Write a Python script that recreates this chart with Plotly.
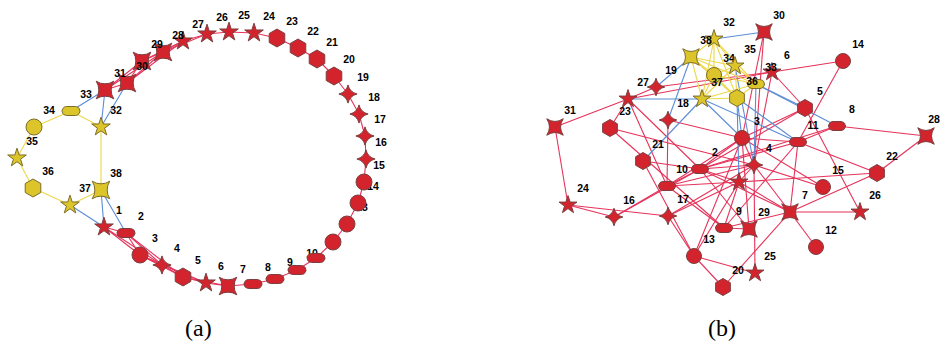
import math
import plotly.graph_objects as go

# ---------------- data ----------------
NODE_ID = list(range(1, 39))
NODE_SHAPE = (["star", "pill", "circle", "star-diamond", "hexagon", "star", "star-square"]
              + ["pill"] * 4 + ["circle"] * 4 + ["star-diamond"] * 4 + ["hexagon"] * 4
              + ["star"] * 4 + ["star-square"] * 4
              + ["star", "pill", "circle", "star", "hexagon", "star", "star-square"])
NODE_GROUP = ["red"] * 31 + ["yellow"] * 7

# panel (a) layout (node positions)
A_X = [104, 126, 140, 162, 183, 206, 228, 253, 275, 297, 316, 333, 347, 358, 364, 366, 365, 359, 348,
       334, 317, 298, 277, 254, 229, 207, 183, 163, 142, 127, 105, 101, 71, 34, 17, 33, 70, 101]
A_Y = [227, 233, 255, 265, 277, 283, 286, 284, 279, 270, 258, 242, 224, 203, 182, 159, 136, 114, 94,
       76, 59, 48, 38, 33, 32, 34, 41, 52, 61, 83, 90, 127, 111, 127, 158, 188, 205, 190]

# panel (b) layout
B_X = [739, 700, 742, 754, 805, 772, 790, 837, 724, 667, 798, 816, 694, 843, 823, 614, 668, 668, 656,
       723, 643, 877, 610, 568, 755, 860, 628, 926, 749, 764, 555, 714, 756, 714, 735, 737, 702, 691]
B_Y = [182, 169, 138, 165, 108, 72, 212, 126, 228, 186, 142, 247, 256, 61, 187, 217, 216, 120, 87,
       287, 161, 173, 128, 205, 273, 212, 99, 136, 229, 32, 127, 39, 84, 75, 66, 98, 99, 57]

A_RED_EDGES = ([(i, i + 1) for i in range(1, 31)]
               + [(1, 3), (1, 4), (2, 4), (2, 5), (3, 5), (3, 6), (4, 6), (5, 7),
                  (26, 28), (27, 29), (28, 30), (29, 31), (27, 30), (28, 31)])
A_BLUE_EDGES = [(31, 33), (31, 32), (30, 32), (37, 1), (38, 1), (38, 2)]
A_YELLOW_EDGES = [(33, 34), (34, 35), (35, 36), (36, 37), (37, 38), (33, 32), (32, 38)]

B_RED_EDGES = [(31, 27), (31, 24), (27, 19), (27, 6), (19, 6), (27, 2), (27, 10), (23, 27), (23, 4),
               (23, 9), (18, 3), (18, 10), (21, 2), (21, 13), (24, 16), (24, 17), (16, 10), (16, 2),
               (17, 13), (17, 1), (17, 4), (13, 1), (13, 3), (13, 20), (13, 25), (20, 7), (25, 4),
               (29, 2), (29, 9), (29, 3), (9, 1), (9, 7), (9, 10), (7, 1), (7, 4), (7, 12), (7, 26),
               (7, 22), (7, 11), (7, 2), (15, 3), (15, 4), (5, 26), (22, 28), (22, 11), (1, 22),
               (28, 8), (8, 11), (8, 2), (14, 6), (14, 11), (6, 5), (6, 4), (30, 3), (30, 4),
               (5, 3), (5, 2), (11, 3), (11, 2), (11, 9), (3, 2), (3, 4), (3, 10), (2, 4), (2, 1),
               (2, 10), (10, 4), (10, 1), (4, 1)]
B_BLUE_EDGES = [(30, 32), (19, 38), (18, 38), (21, 37), (27, 37), (37, 3), (36, 3), (35, 4), (33, 4),
                (36, 1), (36, 11), (37, 11), (33, 8), (33, 5)]
B_YELLOW_EDGES = [(a, b) for a in range(32, 39) for b in range(a + 1, 39)]

CAPTIONS = ["(a)", "(b)"]
CAPTION_X = [198, 722]

# ---------------- style ----------------
RED_FILL, RED_LINE = "#d3242e", "#7a4040"
YEL_FILL, YEL_LINE = "#dcc52b", "#7d6d2a"
EDGE_COLORS = {"red": "#e6325a", "blue": "#5b8dd6", "yellow": "#ecd84a"}
SIZES_A = {"star": 14, "circle": 16, "star-diamond": 13, "hexagon": 18, "star-square": 16,
           "pill": (18, 9)}
SIZES_B = {"star": 13.5, "circle": 15, "star-diamond": 12.5, "hexagon": 17, "star-square": 15,
           "pill": (17, 9)}
LABEL_DX, LABEL_DY = 15, -16

W, H = 943, 345
fig = go.Figure()


def pill_xy(cx, cy, w, h):
    r = h / 2.0
    xs, ys = [], []
    for k in range(15):
        a = math.radians(-90 + 180 * k / 14)
        xs.append(cx + w / 2 - r + r * math.cos(a))
        ys.append(cy + r * math.sin(a))
    for k in range(15):
        a = math.radians(90 + 180 * k / 14)
        xs.append(cx - w / 2 + r + r * math.cos(a))
        ys.append(cy + r * math.sin(a))
    xs.append(xs[0])
    ys.append(ys[0])
    return xs, ys


def add_panel(xs, ys, red_e, blue_e, yel_e, sizes):
    for edges, key in ((red_e, "red"), (blue_e, "blue"), (yel_e, "yellow")):
        ex, ey = [], []
        for a, b in edges:
            ex += [xs[a - 1], xs[b - 1], None]
            ey += [ys[a - 1], ys[b - 1], None]
        fig.add_trace(go.Scatter(x=ex, y=ey, mode="lines",
                                 line=dict(color=EDGE_COLORS[key], width=1.1),
                                 hoverinfo="skip", showlegend=False))
    for i, nid in enumerate(NODE_ID):
        shape = NODE_SHAPE[i]
        fill = RED_FILL if NODE_GROUP[i] == "red" else YEL_FILL
        edge = RED_LINE if NODE_GROUP[i] == "red" else YEL_LINE
        cx, cy = xs[i], ys[i]
        if shape == "pill":
            pw, ph = sizes["pill"]
            px, py = pill_xy(cx, cy, pw, ph)
            fig.add_trace(go.Scatter(x=px, y=py, mode="lines", fill="toself",
                                     fillcolor=fill, line=dict(color=edge, width=1),
                                     hoverinfo="skip", showlegend=False))
        else:
            fig.add_trace(go.Scatter(x=[cx], y=[cy], mode="markers",
                                     marker=dict(symbol=shape, size=sizes[shape], color=fill,
                                                 line=dict(color=edge, width=1)),
                                     hoverinfo="skip", showlegend=False))
        lx = min(cx + LABEL_DX, W - 9)
        fig.add_trace(go.Scatter(x=[lx], y=[cy + LABEL_DY], mode="text",
                                 text=["<b>%d</b>" % nid],
                                 textfont=dict(family="Liberation Sans, Arial", size=10.5,
                                               color="black"),
                                 textposition="middle center",
                                 hoverinfo="skip", showlegend=False))


add_panel(A_X, A_Y, A_RED_EDGES, A_BLUE_EDGES, A_YELLOW_EDGES, SIZES_A)
add_panel(B_X, B_Y, B_RED_EDGES, B_BLUE_EDGES, B_YELLOW_EDGES, SIZES_B)

for txt, x in zip(CAPTIONS, CAPTION_X):
    fig.add_annotation(x=x, y=328, text=txt, showarrow=False, xref="x", yref="y",
                       font=dict(family="Liberation Serif, Times New Roman", size=24,
                                 color="black"))

fig.update_layout(width=W, height=H, autosize=False,
                  margin=dict(l=0, r=0, t=0, b=0),
                  paper_bgcolor="white", plot_bgcolor="white",
                  xaxis=dict(range=[0, W], visible=False, fixedrange=True),
                  yaxis=dict(range=[H, 0], visible=False, fixedrange=True),
                  showlegend=False)

fig.write_html("out.html")
